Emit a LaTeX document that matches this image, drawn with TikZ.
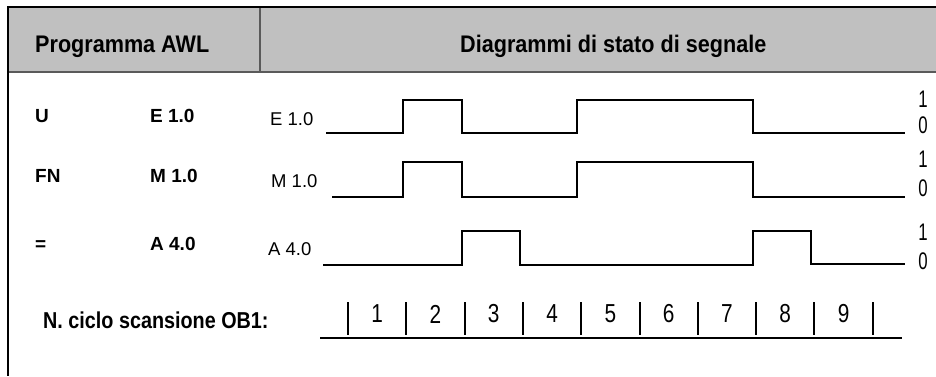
\documentclass[tikz,border=0pt]{standalone}
\usepackage{fontspec}
\setmainfont{Liberation Sans}
\newfontfamily\hdfont[FakeStretch=0.9]{Liberation Sans}
\newfontfamily\cfont[FakeStretch=0.86]{Liberation Sans}
\newfontfamily\lvfont[FakeStretch=0.7]{Liberation Sans}
\newfontfamily\cyfont[FakeStretch=0.8]{Liberation Sans}
\definecolor{headgray}{HTML}{C0C0C0}
\definecolor{rulegray}{HTML}{5A5A5A}
\tikzset{
  txt/.style={inner sep=0pt, anchor=base west},
  head/.style={txt, font=\hdfont\bfseries\fontsize{24}{28}\selectfont},
  instr/.style={txt, font=\bfseries\fontsize{19}{22}\selectfont},
  sig/.style={txt, font=\fontsize{18.5}{21}\selectfont},
  lvl/.style={inner sep=0pt, font=\lvfont\fontsize{24}{26}\selectfont},
  cyc/.style={inner sep=0pt, font=\cyfont\fontsize{26}{28}\selectfont},
  wave/.style={line width=1.2pt, line join=miter},
  tick/.style={line width=2pt},
}
\begin{document}
\begin{tikzpicture}[x=1pt,y=-1pt]
\useasboundingbox (0,0) rectangle (936,376);

% header band and frame
\fill[headgray] (8,7) rectangle (936,72);
\draw[rulegray, line width=2pt] (8,72) -- (936,72);
\draw[rulegray, line width=2pt] (259.5,7) -- (259.5,72);
\draw[line width=2.5pt] (8,7) -- (936,7);
\draw[line width=1.5pt] (8,6) -- (8,376);

\node[head] (hprog) at (35,52) {Programma AWL};
\node[head] (hdiag) at (460,52) {Diagrammi di stato di segnale};

% instruction list
\node[instr] (op1) at (35,122) {U};
\node[instr] (ad1) at (150,122) {E 1.0};
\node[instr] (op2) at (35,182) {FN};
\node[instr] (ad2) at (150,182) {M 1.0};
\node[instr] (op3) at (35,250) {=};
\node[instr] (ad3) at (150,250) {A 4.0};

% signal names
\node[sig] (s1) at (270,125) {E 1.0};
\node[sig] (s2) at (271,187) {M 1.0};
\node[sig] (s3) at (268,255) {A 4.0};

% signal levels
\node[lvl] (h1) at (923,99) {1};
\node[lvl] (l1) at (923,125) {0};
\node[lvl] (h2) at (923,159) {1};
\node[lvl] (l2) at (923,188) {0};
\node[lvl] (h3) at (923,232) {1};
\node[lvl] (l3) at (923,261) {0};

% waveforms
\coordinate (w1) at (326,133);
\coordinate (w2) at (332,197);
\coordinate (w3) at (323,265);
\draw[wave] (w1) -- (403,133) -- (403,100) -- (462,100) -- (462,133)
  -- (577,133) -- (577,100) -- (753,100) -- (753,133) -- (905,133);
\draw[wave] (w2) -- (403,197) -- (403,162) -- (462,162) -- (462,197)
  -- (577,197) -- (577,162) -- (753,162) -- (753,197) -- (905,197);
\draw[wave] (w3) -- (462,265) -- (462,231) -- (520,231) -- (520,265)
  -- (753,265) -- (753,231) -- (811,231) -- (811,264) -- (905,264);

% scan cycles of OB1
\node[txt, font=\cfont\bfseries\fontsize{23}{27}\selectfont] (cyl) at (43,328) {N. ciclo scansione OB1:};
\coordinate (c0) at (320,338);
\coordinate (c1) at (902,338);
\draw[line width=1.5pt] (c0) -- (c1);
\foreach \i in {0,...,9} {
  \draw[tick] ({348+58.3*\i},302) -- ({348+58.3*\i},335);
}
\foreach \i in {1,...,9} {
  \node[cyc] (n\i) at ({348+58.3*(\i-0.5)},314) {\i};
}
\end{tikzpicture}
\end{document}
